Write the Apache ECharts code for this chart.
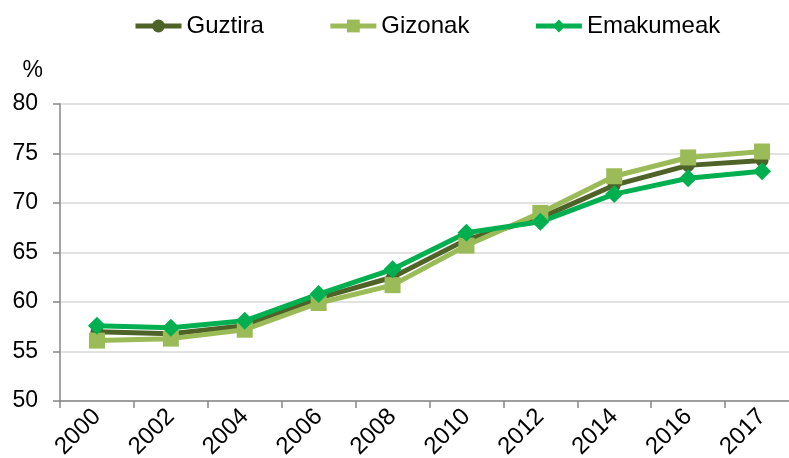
<!DOCTYPE html>
<html>
<head>
<meta charset="utf-8">
<script src="https://cdn.jsdelivr.net/npm/echarts@6/dist/echarts.min.js"></script>
<style>
  html, body {margin: 0; padding: 0; background: #fff;}
  #chart {width: 789px; height: 458px;}
</style>
</head>
<body>
<div id="chart"></div>
<script>
// urteak
var years = ['2000', '2002', '2004', '2006', '2008', '2010', '2012', '2014', '2016', '2017']
var guztira = [57.0, 56.8, 57.6, 60.4, 62.5, 66.3, 68.5, 71.8, 73.8, 74.3]
var gizonak = [56.1, 56.3, 57.2, 59.9, 61.7, 65.7, 69.0, 72.7, 74.6, 75.2]
var emakumeak = [57.6, 57.4, 58.1, 60.8, 63.3, 67.0, 68.1, 70.9, 72.5, 73.2]

var font = 'Liberation Sans, Arial, sans-serif'

function lineSerie(name, data, color, symbol, size){
  return {
    name: name,
    type: 'line',
    data: data,
    symbol: symbol,
    symbolSize: size,
    showAllSymbol: true,
    itemStyle: {color: color},
    lineStyle: {color: color, width: 5},
    emphasis: {disabled: true}
  }
}

var myChart = echarts.init(document.getElementById('chart'))
myChart.setOption({
  animation: false,
  legend: {
    top: 9,
    left: 128,
    itemWidth: 46,
    itemHeight: 16,
    itemGap: 64,
    lineStyle: {width: 5},
    textStyle: {fontFamily: font, fontSize: 24, color: '#000'},
    data: ['Guztira', 'Gizonak', 'Emakumeak']
  },
  grid: {left: 60, right: -10, top: 104, bottom: 57, outerBoundsMode: 'none', containLabel: false},
  xAxis: {
    type: 'category',
    data: years,
    boundaryGap: true,
    axisLine: {lineStyle: {color: '#868686', width: 1.5}},
    axisTick: {show: true, length: 7, lineStyle: {color: '#868686', width: 1.5}},
    axisLabel: {rotate: 45, fontFamily: font, fontSize: 24, color: '#000', margin: 12}
  },
  yAxis: {
    type: 'value',
    min: 50,
    max: 80,
    interval: 5,
    name: '%',
    nameGap: 22,
    nameTextStyle: {fontFamily: font, fontSize: 23, color: '#000', align: 'right', padding: [0, 17, 0, 0]},
    axisLine: {show: true, lineStyle: {color: '#868686', width: 1.5}},
    axisTick: {show: true, length: 7, lineStyle: {color: '#868686', width: 1.5}},
    axisLabel: {fontFamily: font, fontSize: 23, color: '#000', margin: 22},
    splitLine: {lineStyle: {color: '#d9d9d9', width: 1.5}}
  },
  series: [
    lineSerie('Guztira', guztira, '#4f6228', 'circle', 13),
    lineSerie('Gizonak', gizonak, '#9bbb59', 'rect', 16),
    lineSerie('Emakumeak', emakumeak, '#00b050', 'diamond', 18)
  ]
})
window.onresize = myChart.resize
</script>
</body>
</html>
